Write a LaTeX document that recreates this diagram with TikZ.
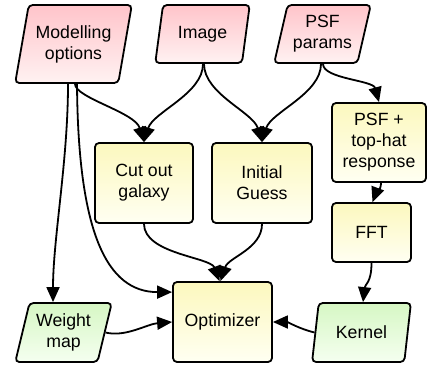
\documentclass[tikz,border=0pt]{standalone}
\usepackage{fontspec}
\setmainfont{Liberation Sans}
\usetikzlibrary{shapes.geometric,arrows.meta,calc}

\definecolor{pinkTop}{HTML}{FFC4CA}
\definecolor{pinkBot}{HTML}{FFF2F2}
\definecolor{yelTop}{HTML}{FCF8BE}
\definecolor{yelBot}{HTML}{FFFFF2}
\definecolor{grnTop}{HTML}{D6F7C4}
\definecolor{grnBot}{HTML}{F5FFF0}

\begin{document}
\begin{tikzpicture}[x=1pt,y=1pt,
  base/.style={draw=black, line width=1.8pt, align=center, inner sep=0pt,
    font=\fontsize{17.7}{21}\selectfont, rounded corners=4pt},
  procbox/.style={base, rectangle, top color=yelTop, bottom color=yelBot},
  para/.style={base, trapezium, trapezium left angle=73, trapezium right angle=107,
    trapezium stretches=true},
  inbox/.style={para, top color=pinkTop, bottom color=pinkBot},
  outbox/.style={para, top color=grnTop, bottom color=grnBot},
  link/.style={line width=1.8pt, -{Triangle[length=15pt,width=13pt]}},
]
\useasboundingbox (0,0) rectangle (428,-367);

% inputs
\node[inbox, minimum width=117pt, minimum height=78pt] (mo) at (73.5,-44) {Modelling\\options};
\node[inbox, minimum width=95pt, minimum height=58pt] (img) at (202.5,-34) {Image};
\node[inbox, minimum width=97pt, minimum height=58pt] (psf) at (322.5,-34) {PSF\\params};

% processing steps
\node[procbox, minimum width=94pt, minimum height=79pt] (pth) at (379,-142.5) {PSF +\\top-hat\\response};
\node[procbox, minimum width=98pt, minimum height=80pt] (cut) at (144,-183) {Cut out\\galaxy};
\node[procbox, minimum width=100pt, minimum height=80pt] (init) at (262,-183) {Initial\\Guess};
\node[procbox, minimum width=79pt, minimum height=59pt] (fft) at (371.5,-232.5) {FFT};
\node[procbox, minimum width=99pt, minimum height=80pt] (opt) at (222.5,-322) {Optimizer};

% derived data
\node[outbox, minimum width=97pt, minimum height=59pt] (wt) at (63.5,-332.5) {Weight\\map};
\node[outbox, minimum width=99pt, minimum height=59pt] (ker) at (361.5,-332.5) {Kernel};

% connectors
\draw[link] ($(mo.south)+(-5.5,0)$) .. controls +(0,-77) and +(0,63) .. ($(wt.north)+(-10.5,0)$);
\draw[link] ($(mo.south)+(3.5,0)$) .. controls +(1,-147) and +(-66,0) .. ($(opt.north west)+(0,-11)$);
\draw[link] ($(mo.south)+(1.5,0)$) .. controls +(0,-14) and +(-9,30) .. (cut.north);
\draw[link] ($(img.south)+(0.5,0)$) .. controls +(0,-30) and +(9,30) .. (cut.north);
\draw[link] ($(img.south)+(1.5,0)$) .. controls +(0,-30) and +(-9,30) .. (init.north);
\draw[link] ($(psf.south)+(-1.5,0)$) .. controls +(0,-30) and +(9,30) .. (init.north);
\draw[link] ($(psf.south)+(0.5,0)$) .. controls +(0,-15) and +(-6,22) .. (pth.north);
\draw[link] ($(pth.south)+(2,0)$) .. controls +(0,-8) and +(3,8) .. ($(fft.north)+(1,0)$);
\draw[link] (fft.south) .. controls +(0,-20) and +(2,18) .. ($(ker.north)+(1.5,0)$);
\draw[link] (ker.west) .. controls +(-16,4) and +(15,0) .. (opt.east);
\draw[link] (wt.east) .. controls +(20,-5) and +(-25,-2) .. (opt.west);
\draw[link] (cut.south) .. controls +(0,-30) and +(-9,24) .. ($(opt.north)+(-3,0)$);
\draw[link] (init.south) .. controls +(0,-25) and +(8,24) .. ($(opt.north)+(-2,0)$);
\end{tikzpicture}
\end{document}
